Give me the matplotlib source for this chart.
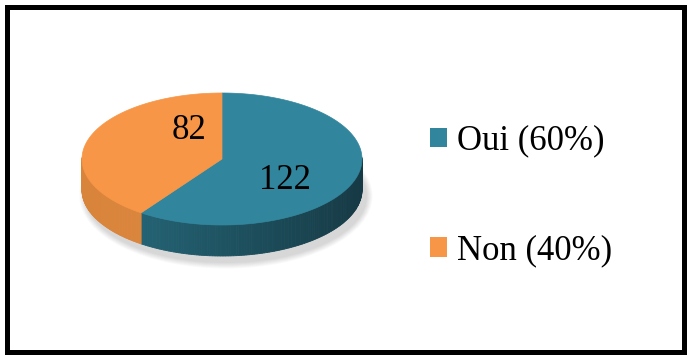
import numpy as np
import matplotlib
matplotlib.use('Agg')
import matplotlib.pyplot as plt
from matplotlib.patches import Polygon, Rectangle, Ellipse, Patch
from matplotlib.colors import to_rgb

# data
labels = ['Oui', 'Non']
values = [122, 82]
top_colors = ['#31859C', '#F79646']
side_light = ['#276D80', '#E48B3F']
side_dark = ['#163A45', '#D9843B']

# layout (pixels)
W, H = 690, 358
cx, cy = 222, 159
rx, ry = 140, 66
depth = 31
label_offsets = [(0, 12), (30, -19)]

plt.rcParams['font.family'] = ['Liberation Serif', 'DejaVu Serif']

fig = plt.figure(figsize=(W / 100, H / 100), dpi=100)
ax = fig.add_axes([0, 0, 1, 1])
ax.set_xlim(0, W)
ax.set_ylim(H, 0)
ax.axis('off')


def ell(t, dy=0):
    return cx + rx * np.cos(t), cy - ry * np.sin(t) + dy


# soft shadow under the pie
for k in range(8):
    grow = 2 + k * 1.6
    ax.add_patch(Ellipse((cx + 4, cy + depth + 6), 2 * rx + grow, 2 * ry + grow,
                         color='black', alpha=0.018, lw=0, zorder=1))

total = sum(values)
start = np.pi / 2
spans = []
for v in values:
    ang = 2 * np.pi * v / total
    spans.append((start - ang, start))  # clockwise from top
    start -= ang

# side walls (front half only), drawn as thin strips with shading
for i, (a0, a1) in enumerate(spans):
    ts = np.linspace(a0, a1, 200)
    c0, c1 = np.array(to_rgb(side_light[i])), np.array(to_rgb(side_dark[i]))
    for j in range(len(ts) - 1):
        tm = 0.5 * (ts[j] + ts[j + 1])
        if np.sin(tm) > 0.02:
            continue
        f = (np.cos(tm) + 1) / 2
        if i == 1:
            f = 1 - f
        col = c0 + (c1 - c0) * f
        x0, y0 = ell(ts[j])
        x1, y1 = ell(ts[j + 1])
        poly = [(x0, y0), (x1, y1), (x1, y1 + depth), (x0, y0 + depth)]
        ax.add_patch(Polygon(poly, closed=True, facecolor=col, edgecolor=col,
                             lw=0.6, zorder=2))

# top faces
for i, (a0, a1) in enumerate(spans):
    ts = np.linspace(a0, a1, 200)
    xs, ys = ell(ts)
    pts = [(cx, cy)] + list(zip(xs, ys))
    ax.add_patch(Polygon(pts, closed=True, facecolor=top_colors[i],
                         edgecolor=top_colors[i], lw=0.5, zorder=3))

# value labels
for i, (a0, a1) in enumerate(spans):
    tm = 0.5 * (a0 + a1)
    lx, ly = ell(tm)
    lx = cx + (lx - cx) * 0.47 + label_offsets[i][0]
    ly = cy + (ly - cy) * 0.47 + label_offsets[i][1]
    ax.text(lx, ly, str(values[i]), fontsize=25, ha='center', va='center',
            color='black', zorder=5)

# legend
handles = [Patch(facecolor=c, edgecolor='none') for c in top_colors]
leg_labels = [f'{l} ({round(v / total * 100)}%)' for l, v in zip(labels, values)]
ax.legend(handles, leg_labels, loc='center left',
          bbox_to_anchor=(430 / W, 1 - 196 / H), bbox_transform=fig.transFigure,
          frameon=False, fontsize=25, handlelength=0.5, handleheight=0.5,
          handletextpad=0.28, labelspacing=2.2, borderpad=0, borderaxespad=0)

# outer frame
ax.add_patch(Rectangle((6.5, 6.5), W - 13, H - 13, fill=False,
                       edgecolor='black', lw=3.6, zorder=10))

fig.savefig('out.png', dpi=100)
